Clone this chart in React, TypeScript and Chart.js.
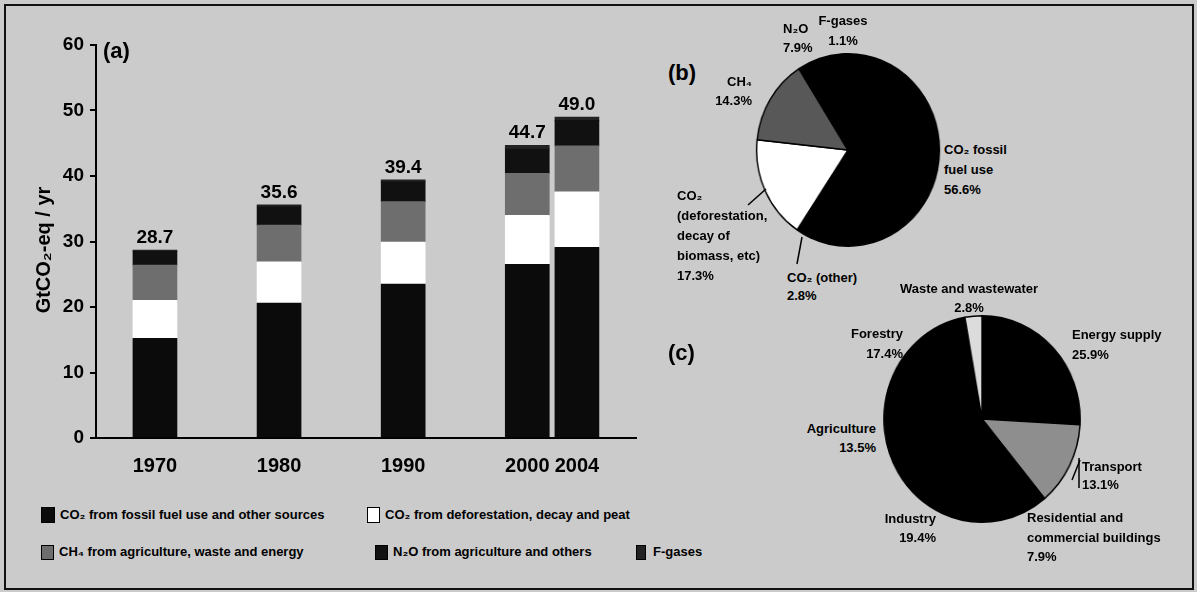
import React, { useEffect, useRef } from "react";
import { Chart, registerables } from "chart.js";

Chart.register(...registerables);

// ---------- data: panel (a) ----------
const years = [1970, 1980, 1990, 2000, 2004];
const totals = [28.7, 35.6, 39.4, 44.7, 49.0];
const co2Fossil = [15.2, 20.6, 23.5, 26.5, 29.1];
const co2Deforestation = [5.8, 6.3, 6.4, 7.5, 8.5];
const ch4 = [5.4, 5.6, 6.2, 6.4, 7.0];
const n2o = [2.1, 2.8, 3.0, 3.8, 3.9];
const fGases = [0.2, 0.3, 0.3, 0.5, 0.5];
const seriesNames = [
  "CO₂ from fossil fuel use and other sources",
  "CO₂ from deforestation, decay and peat",
  "CH₄ from agriculture, waste and energy",
  "N₂O from agriculture and others",
  "F-gases",
];
const yTicks = [0, 10, 20, 30, 40, 50, 60];
const yTitle = "GtCO₂-eq / yr";

// ---------- data: panel (b) ----------
const gasLabels = [
  "CO₂ fossil\nfuel use",
  "CO₂ (other)",
  "CO₂\n(deforestation,\ndecay of\nbiomass, etc)",
  "CH₄",
  "N₂O",
  "F-gases",
];
const gasShares = [56.6, 2.8, 17.3, 14.3, 7.9, 1.1];

// ---------- data: panel (c) ----------
const sectorLabels = [
  "Energy supply",
  "Transport",
  "Residential and\ncommercial buildings",
  "Industry",
  "Agriculture",
  "Forestry",
  "Waste and wastewater",
];
const sectorShares = [25.9, 13.1, 7.9, 19.4, 13.5, 17.4, 2.8];

// ---------- styles ----------
const FONT = '"Liberation Sans", Arial, Helvetica, sans-serif';
const BG = "#cbcbcb";
const barColors = ["#0b0b0b", "#ffffff", "#6e6e6e", "#111111", "#222222"];
const gasColors = ["#000000", "#000000", "#ffffff", "#585858", "#000000", "#000000"];
const sectorColors = ["#000000", "#8e8e8e", "#000000", "#000000", "#000000", "#000000", "#dcdcdc"];

type LabelPos = { align: "left" | "right" | "center"; x: number; top: number; lh: number };
const gasLabelPos: LabelPos[] = [
  { align: "left", x: 944, top: 140, lh: 20 },
  { align: "left", x: 787, top: 269, lh: 18 },
  { align: "left", x: 677, top: 186, lh: 20 },
  { align: "right", x: 752, top: 72, lh: 19 },
  { align: "left", x: 783, top: 19, lh: 19 },
  { align: "center", x: 843, top: 11, lh: 20 },
];
const sectorLabelPos: LabelPos[] = [
  { align: "left", x: 1072, top: 325, lh: 20 },
  { align: "left", x: 1082, top: 458, lh: 18 },
  { align: "left", x: 1027, top: 508, lh: 19.5 },
  { align: "right", x: 936, top: 508.5, lh: 19 },
  { align: "right", x: 876, top: 418.5, lh: 19 },
  { align: "right", x: 903, top: 324, lh: 20 },
  { align: "center", x: 969, top: 278.5, lh: 19 },
];
const legendPos = [
  { sx: 41, sy: 507, sw: 14, sh: 16, tx: 60, cy: 515 },
  { sx: 367, sy: 507, sw: 13, sh: 16, tx: 385, cy: 515 },
  { sx: 41, sy: 545, sw: 13, sh: 15, tx: 59, cy: 552 },
  { sx: 375, sy: 545, sw: 13, sh: 15, tx: 393, cy: 552 },
  { sx: 636, sy: 545, sw: 10, sh: 15, tx: 653, cy: 552 },
];

const valueLabelPlugin = {
  id: "valueLabels",
  afterDatasetsDraw(chart: any) {
    const ctx = chart.ctx;
    const last = chart.getDatasetMeta(chart.data.datasets.length - 1);
    ctx.save();
    ctx.font = `bold 19px ${FONT}`;
    ctx.fillStyle = "#000";
    ctx.textAlign = "center";
    ctx.textBaseline = "bottom";
    last.data.forEach((bar: any, i: number) => {
      ctx.fillText(totals[i].toFixed(1), bar.x, bar.y - 3);
    });
    ctx.restore();
  },
};

function PieLabels({ labels, values, pos }: { labels: string[]; values: number[]; pos: LabelPos[] }) {
  return (
    <>
      {labels.map((lab, i) => {
        const p = pos[i];
        const tx = p.align === "right" ? "translateX(-100%)" : p.align === "center" ? "translateX(-50%)" : "none";
        const lines = lab.split("\n");
        return (
          <div
            key={i}
            style={{
              position: "absolute",
              left: p.x,
              top: p.top,
              transform: tx,
              textAlign: p.align,
              lineHeight: `${p.lh}px`,
              fontSize: 13,
              fontWeight: "bold",
              whiteSpace: "nowrap",
              color: "#000",
            }}
          >
            {lines.map((l, k) => (
              <div key={k}>{l}</div>
            ))}
            <div>{values[i].toFixed(1)}%</div>
          </div>
        );
      })}
    </>
  );
}

export default function App() {
  const barRef = useRef<HTMLCanvasElement>(null);
  const pieBRef = useRef<HTMLCanvasElement>(null);
  const pieCRef = useRef<HTMLCanvasElement>(null);

  useEffect(() => {
    Chart.defaults.font.family = FONT;
    const series = [co2Fossil, co2Deforestation, ch4, n2o, fGases];
    const charts: Chart[] = [];

    charts.push(
      new Chart(barRef.current as HTMLCanvasElement, {
        type: "bar",
        data: {
          datasets: series.map((vals, k) => ({
            label: seriesNames[k],
            data: years.map((yr, i) => ({ x: yr, y: vals[i] })),
            backgroundColor: barColors[k],
            borderWidth: 0,
            barThickness: 44,
          })),
        } as any,
        options: {
          responsive: false,
          animation: false,
          events: [],
          layout: { padding: { top: 45, right: 24, left: 0, bottom: 0 } },
          plugins: { legend: { display: false }, tooltip: { enabled: false } },
          scales: {
            x: {
              type: "linear",
              min: 1965.25,
              max: 2008.76,
              stacked: true,
              offset: false,
              afterBuildTicks: (s: any) => {
                s.ticks = years.map((v) => ({ value: v }));
              },
              afterFit: (s: any) => {
                s.height = 42;
              },
              grid: { display: false },
              border: { display: true, color: "#000", width: 2 },
              ticks: {
                color: "#000",
                font: { size: 20, weight: "bold" },
                padding: 8,
                maxRotation: 0,
                autoSkip: false,
                callback: (v: any) => String(v),
              },
            },
            y: {
              type: "linear",
              min: 0,
              max: 60,
              stacked: true,
              afterBuildTicks: (s: any) => {
                s.ticks = yTicks.map((v) => ({ value: v }));
              },
              afterFit: (s: any) => {
                s.width = 96;
              },
              grid: { drawOnChartArea: false, drawTicks: true, tickLength: 6, color: "#000", lineWidth: 2 },
              border: { color: "#000", width: 2 },
              ticks: { color: "#000", font: { size: 19, weight: "bold" }, padding: 6 },
            },
          },
        } as any,
        plugins: [valueLabelPlugin],
      })
    );

    const pieOpts: any = {
      responsive: false,
      animation: false,
      events: [],
      layout: { padding: 1 },
      plugins: { legend: { display: false }, tooltip: { enabled: false } },
    };

    charts.push(
      new Chart(pieBRef.current as HTMLCanvasElement, {
        type: "pie",
        data: {
          labels: gasLabels,
          datasets: [{ data: gasShares, backgroundColor: gasColors, borderColor: "#000", borderWidth: 1.5 }],
        },
        options: pieOpts,
      })
    );

    charts.push(
      new Chart(pieCRef.current as HTMLCanvasElement, {
        type: "pie",
        data: {
          labels: sectorLabels,
          datasets: [{ data: sectorShares, backgroundColor: sectorColors, borderColor: "#000", borderWidth: 1.5 }],
        },
        options: pieOpts,
      })
    );

    return () => charts.forEach((c) => c.destroy());
  }, []);

  return (
    <div
      style={{
        position: "absolute",
        left: 0,
        top: 0,
        width: 1197,
        height: 592,
        background: BG,
        overflow: "hidden",
        fontFamily: FONT,
        color: "#000",
      }}
    >
      {/* outer frame */}
      <div
        style={{
          position: "absolute",
          left: 4,
          top: 4,
          width: 1186,
          height: 582,
          border: "2px solid #111",
        }}
      />

      <canvas ref={barRef} width={660} height={480} style={{ position: "absolute", left: 0, top: 0 }} />

      {/* panel (a) label */}
      <div style={{ position: "absolute", left: 103, top: 39, fontSize: 22, fontWeight: "bold", lineHeight: "24px" }}>(a)</div>

      {/* y-axis title */}
      <div
        style={{
          position: "absolute",
          left: 43,
          top: 250,
          transform: "translate(-50%, -50%) rotate(-90deg)",
          fontSize: 20,
          fontWeight: "bold",
          whiteSpace: "nowrap",
        }}
      >
        {yTitle}
      </div>

      {/* legend */}
      {seriesNames.map((name, k) => {
        const p = legendPos[k];
        return (
          <React.Fragment key={k}>
            <div
              style={{
                position: "absolute",
                left: p.sx,
                top: p.sy,
                width: p.sw,
                height: p.sh,
                boxSizing: "border-box",
                background: barColors[k],
                border: "1.5px solid #000",
              }}
            />
            <div
              style={{
                position: "absolute",
                left: p.tx,
                top: p.cy - 9,
                lineHeight: "18px",
                fontSize: 13,
                fontWeight: "bold",
                whiteSpace: "nowrap",
              }}
            >
              {name}
            </div>
          </React.Fragment>
        );
      })}

      {/* panel (b) */}
      <div style={{ position: "absolute", left: 668, top: 61, fontSize: 22, fontWeight: "bold", lineHeight: "24px" }}>(b)</div>
      <canvas
        ref={pieBRef}
        width={196}
        height={196}
        style={{ position: "absolute", left: 750, top: 52, transform: "scaleX(0.95)", transformOrigin: "center" }}
      />
      <PieLabels labels={gasLabels} values={gasShares} pos={gasLabelPos} />

      {/* panel (c) */}
      <div style={{ position: "absolute", left: 668, top: 341, fontSize: 22, fontWeight: "bold", lineHeight: "24px" }}>(c)</div>
      <canvas
        ref={pieCRef}
        width={210}
        height={210}
        style={{ position: "absolute", left: 877, top: 314, transform: "scaleX(0.95)", transformOrigin: "center" }}
      />
      <PieLabels labels={sectorLabels} values={sectorShares} pos={sectorLabelPos} />

      {/* leader lines */}
      <svg width={1197} height={592} style={{ position: "absolute", left: 0, top: 0, pointerEvents: "none" }}>
        <g stroke="#000" strokeWidth={1.5} fill="none">
          <line x1={748} y1={205} x2={766} y2={189} />
          <line x1={797} y1={264} x2={802} y2={237} />
          <line x1={1079} y1={488} x2={1079} y2={458} />
          <line x1={1072} y1={480} x2={1080} y2={460} />
        </g>
      </svg>
    </div>
  );
}
